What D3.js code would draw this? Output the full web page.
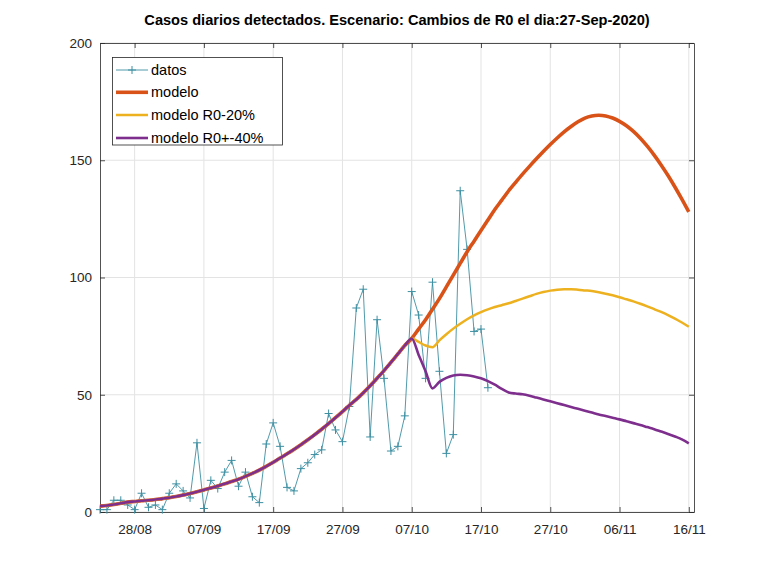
<!DOCTYPE html>
<html><head><meta charset="utf-8">
<script src="https://cdn.jsdelivr.net/npm/d3@7"></script>
<style>body{margin:0;background:#fff}</style>
</head><body>
<svg id="c" width="768" height="576"></svg>
<script>
// ---------- data ----------
const startDate = "2020-08-23";           // first day of the series
const splitDate = "2020-10-07";           // scenarios diverge from this day
const endDate = "2020-11-16";
const datos = [1,1,5,5,3,1,8,2,3,1,8,12,9,6,29.5,1.5,13.5,10,17,22,
  11,17,6.5,4,29,38,28,10.5,9,18.5,21,24.5,26.5,42,35,30,45,87,95,32,
  82,57,26,28,41,94,84,57,98,60,25,33,137,112,77,78,53];
const modelo = [2.5,2.8,3.2,3.7,4.2,4.5,4.8,5.0,5.3,5.7,6.1,6.6,7.2,7.9,8.6,9.4,10.2,11.1,12.0,13.0,
  14.0,15.2,16.5,17.9,19.5,21.2,23.0,24.8,26.7,28.7,30.8,33.0,35.3,37.7,40.2,42.8,45.5,48,50.8,53.8,
  57,60.3,63.8,67.4,71,74,
  78,82,86.5,91,96,101,106,111,115.5,120,124.5,129,133,137,140.6,144.1,147.4,150.6,153.7,156.7,
  159.5,162.1,164.4,166.4,168,168.9,169.2,168.9,168,166.6,164.7,162.3,159.4,156,152.2,148,143.5,138.6,133.4,128];
const modeloR0m20 = [74,72.5,71,70.3,73.2,75.8,78.2,80.3,82.2,83.8,85.2,86.4,87.4,88.2,89,90,91,92,93,93.8,
  94.4,94.8,95,95,94.8,94.5,94.2,93.7,93.1,92.4,91.6,90.7,89.8,88.8,87.7,86.5,85.3,84,82.5,80.8,79];
const modeloR0p40 = [74,67,60,52.7,55.5,57.2,58.2,58.5,58.3,57.8,57,55.8,54.3,52.5,51,50.5,50.2,49.6,48.8,48,
  47.2,46.4,45.6,44.8,44,43.2,42.4,41.6,40.9,40.2,39.5,38.7,37.9,37.1,36.2,35.3,34.3,33.3,32.2,31,29.3];
const xTickLabels = ["28/08","07/09","17/09","27/09","07/10","17/10","27/10","06/11","16/11"];
const yTickValues = [0,50,100,150,200];
const legendLabels = ["datos","modelo","modelo R0-20%","modelo R0+-40%"];
const titleText = "Casos diarios detectados. Escenario: Cambios de R0 el dia:27-Sep-2020)";

// ---------- helpers ----------
const DAY = 864e5;
const t0 = new Date(startDate + "T00:00:00Z");
const tSplit = new Date(splitDate + "T00:00:00Z");
const dayAt = i => new Date(t0.getTime() + i * DAY);
const splitIdx = Math.round((tSplit - t0) / DAY);
const datosPts = datos.map((v,i)=>({d:dayAt(i), v}));
const modeloPts = modelo.map((v,i)=>({d:dayAt(i), v}));
const shared = modelo.slice(0, splitIdx);
const m20Pts = shared.concat(modeloR0m20).map((v,i)=>({d:dayAt(i), v}));
const p40Pts = shared.concat(modeloR0p40).map((v,i)=>({d:dayAt(i), v}));
const tickDates = xTickLabels.map(s => {
  const [dd, mm] = s.split("/").map(Number);
  return new Date(Date.UTC(2020, mm-1, dd));
});

// ---------- layout ----------
const L = 100, R = 694, T = 43, B = 512;
const svg = d3.select("#c");
const font = "'Liberation Sans', Arial, Helvetica, sans-serif";
const x = d3.scaleUtc()
  .domain([t0, new Date(new Date(endDate + "T00:00:00Z").getTime() + 0.75*DAY)])
  .range([L, R]);
const y = d3.scaleLinear().domain([0, 200]).range([B, T]);

const colors = {datos:"#3d8fa2", modelo:"#D95319", m20:"#EDB120", p40:"#7E2F8E"};

// grid
const g = svg.append("g");
g.selectAll(".vg").data(tickDates).join("line")
  .attr("x1", d=>x(d)).attr("x2", d=>x(d)).attr("y1", T).attr("y2", B)
  .attr("stroke", "#e3e3e3").attr("stroke-width", 1);
g.selectAll(".hg").data(yTickValues).join("line")
  .attr("x1", L).attr("x2", R).attr("y1", d=>y(d)).attr("y2", d=>y(d))
  .attr("stroke", "#e3e3e3").attr("stroke-width", 1);

// axes via d3 axis
const fmt = d3.utcFormat("%d/%m");
const xAxis = svg.append("g").attr("transform", `translate(0,${B})`)
  .call(d3.axisBottom(x).tickValues(tickDates).tickFormat(fmt).tickSizeInner(-5).tickSizeOuter(0).tickPadding(12));
const xAxisTop = svg.append("g").attr("transform", `translate(0,${T})`)
  .call(d3.axisTop(x).tickValues(tickDates).tickFormat("").tickSizeInner(-5).tickSizeOuter(0));
const yAxis = svg.append("g").attr("transform", `translate(${L},0)`)
  .call(d3.axisLeft(y).tickValues(yTickValues).tickSizeInner(-5).tickSizeOuter(0).tickPadding(8));
const yAxisR = svg.append("g").attr("transform", `translate(${R},0)`)
  .call(d3.axisRight(y).tickValues(yTickValues).tickFormat("").tickSizeInner(-5).tickSizeOuter(0));
[xAxis, xAxisTop, yAxis, yAxisR].forEach(a => {
  a.select(".domain").attr("stroke", "#262626").attr("stroke-width", 0.8);
  a.selectAll(".tick line").attr("stroke", "#262626").attr("stroke-width", 0.8);
  a.selectAll("text").attr("font-family", font).attr("font-size", 13.5).attr("fill", "#262626");
});

// lines
const line = d3.line().x(d=>x(d.d)).y(d=>y(d.v));
const smooth = d3.line().x(d=>x(d.d)).y(d=>y(d.v)).curve(d3.curveMonotoneX);
const plot = svg.append("g");
plot.append("path").datum(datosPts).attr("d", line)
  .attr("fill","none").attr("stroke", colors.datos).attr("stroke-width", 0.9);
const ms = 4;
plot.selectAll(".mk").data(datosPts).join("path")
  .attr("d", d=>`M${x(d.d)-ms},${y(d.v)}H${x(d.d)+ms}M${x(d.d)},${y(d.v)-ms}V${y(d.v)+ms}`)
  .attr("stroke", colors.datos).attr("stroke-width", 1).attr("fill","none");
plot.append("path").datum(modeloPts).attr("d", smooth)
  .attr("fill","none").attr("stroke", colors.modelo).attr("stroke-width", 3.6).attr("stroke-linejoin","round");
plot.append("path").datum(m20Pts).attr("d", smooth)
  .attr("fill","none").attr("stroke", colors.m20).attr("stroke-width", 2.5).attr("stroke-linejoin","round");
plot.append("path").datum(p40Pts).attr("d", smooth)
  .attr("fill","none").attr("stroke", colors.p40).attr("stroke-width", 2.6).attr("stroke-linejoin","round");

// title
svg.append("text").attr("x", (L+R)/2).attr("y", 25).attr("text-anchor","middle")
  .attr("font-family", font).attr("font-weight","bold").attr("font-size", 14.6).attr("fill","#000")
  .text(titleText);

// legend
const lg = svg.append("g");
lg.append("rect").attr("x", 112.5).attr("y", 57.5).attr("width", 170).attr("height", 87.5)
  .attr("fill","#fff").attr("stroke","#262626").attr("stroke-width", 0.8);
const legItems = [
  {c: colors.datos, w: 0.9, mk: true},
  {c: colors.modelo, w: 3.6},
  {c: colors.m20, w: 2.5},
  {c: colors.p40, w: 2.6}
];
const rowY = [70, 92.3, 115, 138];
legItems.forEach((it, i) => {
  const yy = rowY[i];
  lg.append("line").attr("x1", 116).attr("x2", 148).attr("y1", yy).attr("y2", yy)
    .attr("stroke", it.c).attr("stroke-width", it.w);
  if (it.mk) lg.append("path").attr("d", `M${132-ms},${yy}H${132+ms}M132,${yy-ms}V${yy+ms}`)
    .attr("stroke", it.c).attr("stroke-width", 1);
  lg.append("text").attr("x", 151).attr("y", yy + 5).attr("font-family", font)
    .attr("font-size", 14.5).attr("fill","#000").text(legendLabels[i]);
});
</script>
</body></html>
